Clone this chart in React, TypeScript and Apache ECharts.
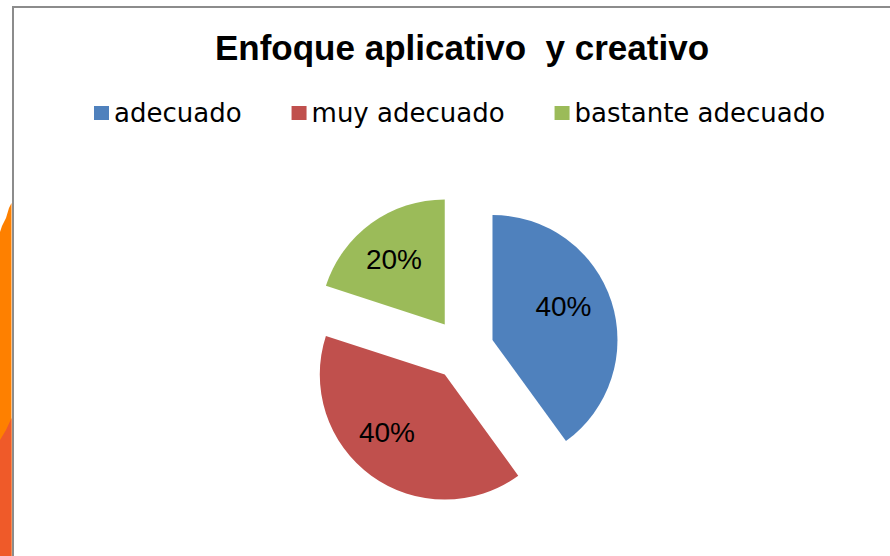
import React, { useEffect, useRef } from "react";
import * as echarts from "echarts";

const TITLE = "Enfoque aplicativo  y creativo";
const categories = ["adecuado", "muy adecuado", "bastante adecuado"];
const values = [40, 40, 20];
const colors = ["#4F81BD", "#C0504D", "#9BBB59"];
// small nudges of the percentage labels, as placed in the original
const labelNudges = [
  [-8, -8],
  [-9, -9],
  [-2, 2],
];

export default function App() {
  const ref = useRef<HTMLDivElement>(null);
  useEffect(() => {
    if (!ref.current) return;
    const chart = echarts.init(ref.current, null, { renderer: "svg" });
    const baseData = categories.map((name, i) => ({
      name,
      value: values[i],
      selected: true,
      itemStyle: { color: colors[i] },
    }));
    const labelData = categories.map((name, i) => ({
      name,
      value: values[i],
      selected: true,
      itemStyle: { color: "rgba(0,0,0,0)" },
    }));
    chart.setOption({
      animation: false,
      backgroundColor: "#ffffff",
      title: {
        text: TITLE,
        left: 462,
        top: 30,
        padding: 0,
        textAlign: "center",
        textStyle: {
          fontFamily: "Liberation Sans",
          fontWeight: "bold",
          fontSize: 35,
          color: "#000000",
        },
      },
      legend: {
        data: categories,
        left: 94,
        top: 100,
        padding: 0,
        itemWidth: 15,
        itemHeight: 14,
        itemGap: 50,
        icon: "rect",
        selectedMode: false,
        textStyle: { fontFamily: "DejaVu Sans", fontSize: 26, color: "#000000" },
      },
      graphic: [
        {
          type: "polygon",
          shape: {
            points: [
              [0, 232],
              [2, 226],
              [6, 218],
              [9, 208],
              [11.5, 203],
              [11.5, 556],
              [0, 556],
            ],
          },
          style: { fill: "#FE8000" },
          silent: true,
        },
        {
          type: "polygon",
          shape: {
            points: [
              [0, 440],
              [6, 430],
              [11.5, 418],
              [11.5, 556],
              [0, 556],
            ],
          },
          style: { fill: "#EF5A29" },
          silent: true,
        },
        {
          type: "line",
          shape: { x1: 13, y1: 7, x2: 890, y2: 7 },
          style: { stroke: "#8C8C8C", lineWidth: 2 },
          silent: true,
        },
        {
          type: "line",
          shape: { x1: 13, y1: 6, x2: 13, y2: 556 },
          style: { stroke: "#8C8C8C", lineWidth: 2 },
          silent: true,
        },
      ],
      series: [
        {
          type: "pie",
          center: [463, 349.5],
          radius: 125,
          startAngle: 90,
          clockwise: true,
          selectedMode: "multiple",
          selectedOffset: 31,
          silent: true,
          emphasis: { disabled: true },
          label: { show: false },
          labelLine: { show: false },
          data: baseData,
        },
        {
          type: "pie",
          center: [463, 349.5],
          radius: [35, 125],
          startAngle: 90,
          clockwise: true,
          selectedMode: "multiple",
          selectedOffset: 31,
          silent: true,
          emphasis: { disabled: true },
          label: {
            show: true,
            position: "inside",
            formatter: "{d}%",
            fontFamily: "Liberation Sans",
            fontSize: 28,
            color: "#000000",
          },
          labelLayout: (p: any) => ({
            dx: labelNudges[p.dataIndex][0],
            dy: labelNudges[p.dataIndex][1],
          }),
          labelLine: { show: false },
          data: labelData,
        },
      ],
    });
    return () => chart.dispose();
  }, []);
  return (
    <div
      ref={ref}
      style={{ position: "fixed", left: 0, top: 0, width: 890, height: 556 }}
    />
  );
}
